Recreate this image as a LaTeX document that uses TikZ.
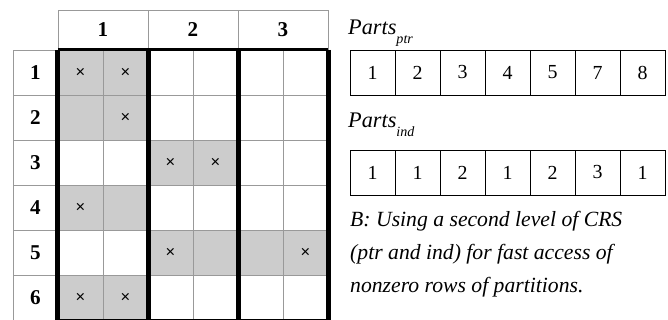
\documentclass[tikz,border=0pt]{standalone}
\usepackage{fontspec}
\setmainfont{Liberation Serif}
\newfontfamily\crossfont{Liberation Sans}
\newcommand\partsub[1]{\raisebox{-0.4em}{\fontsize{12}{12}\selectfont #1}}

\begin{document}
\begin{tikzpicture}[x=0.03cm, y=-0.03cm,
    cell/.style={draw=gray!80, minimum width=1.35cm, minimum height=1.35cm, inner sep=0pt, font=\crossfont\fontsize{14}{16}\selectfont},
    head/.style={draw=gray!80, minimum width=2.7cm, minimum height=1.2cm, inner sep=0pt, font=\bfseries\fontsize{18}{20}\selectfont},
    rowlab/.style={draw=gray!80, minimum width=1.35cm, minimum height=1.35cm, inner sep=0pt, font=\bfseries\fontsize{18}{20}\selectfont},
    entry/.style={draw, minimum width=1.35cm, minimum height=1.35cm, inner sep=0pt, font=\fontsize{17}{20}\selectfont},
    part/.style={line width=4.2pt},
    lbl/.style={anchor=base west, inner sep=0pt, font=\itshape\fontsize{19}{22}\selectfont}
]
\useasboundingbox (0,0) rectangle (668,320);

% Partition headers and row numbers
\foreach \p in {1,2,3}
  \node[head] (h-\p) at ({103+90*(\p-1)}, 30) {\p};
\foreach \r in {1,...,6}
  \node[rowlab] (r-\r) at (35.5, {72.5+45*(\r-1)}) {\r};

% Matrix: 0 = zero, 1 = nonzero row of a partition, 2 = also has an entry
\foreach \r/\row in {1/{2,2,0,0,0,0}, 2/{1,2,0,0,0,0}, 3/{0,0,2,2,0,0},
                     4/{2,1,0,0,0,0}, 5/{0,0,2,1,1,2}, 6/{2,2,0,0,0,0}}
  \foreach \v [count=\c] in \row {
    \ifnum\v>0 \def\cellfill{gray!40}\else\def\cellfill{white}\fi
    \node[cell, fill=\cellfill] (m-\r-\c) at ({80.5+45*(\c-1)}, {72.5+45*(\r-1)}) {\ifnum\v=2 ×\fi};
  }

% Partition borders
\draw[line width=2.2pt] (m-1-1.north west) -- (m-1-6.north east);
\draw[line width=2.2pt] (m-6-1.south west) -- (m-6-6.south east);
\draw[part] (m-1-1.north west) -- (m-6-1.south west);
\foreach \c in {2,4,6}
  \draw[part] (m-1-\c.north east) -- (m-6-\c.south east);

% Second level CRS
\node[lbl] (ptrlab) at (348, 35) {Parts\partsub{ptr}};
\foreach \v [count=\i] in {1,2,3,4,5,7,8}
  \node[entry] (ptr-\i) at ({372.5+45*(\i-1)}, 72.5) {\v};
\node[lbl] (indlab) at (348, 128) {Parts\partsub{ind}};
\foreach \v [count=\i] in {1,1,2,1,2,3,1}
  \node[entry] (ind-\i) at ({372.5+45*(\i-1)}, 172.5) {\v};

\node[anchor=north west, align=left, inner sep=0pt, font=\itshape\fontsize{18.5}{28}\selectfont] (note) at (350, 211)
  {B: Using a second level of CRS\\(ptr and ind) for fast access of\\nonzero rows of partitions.};
\end{tikzpicture}
\end{document}
